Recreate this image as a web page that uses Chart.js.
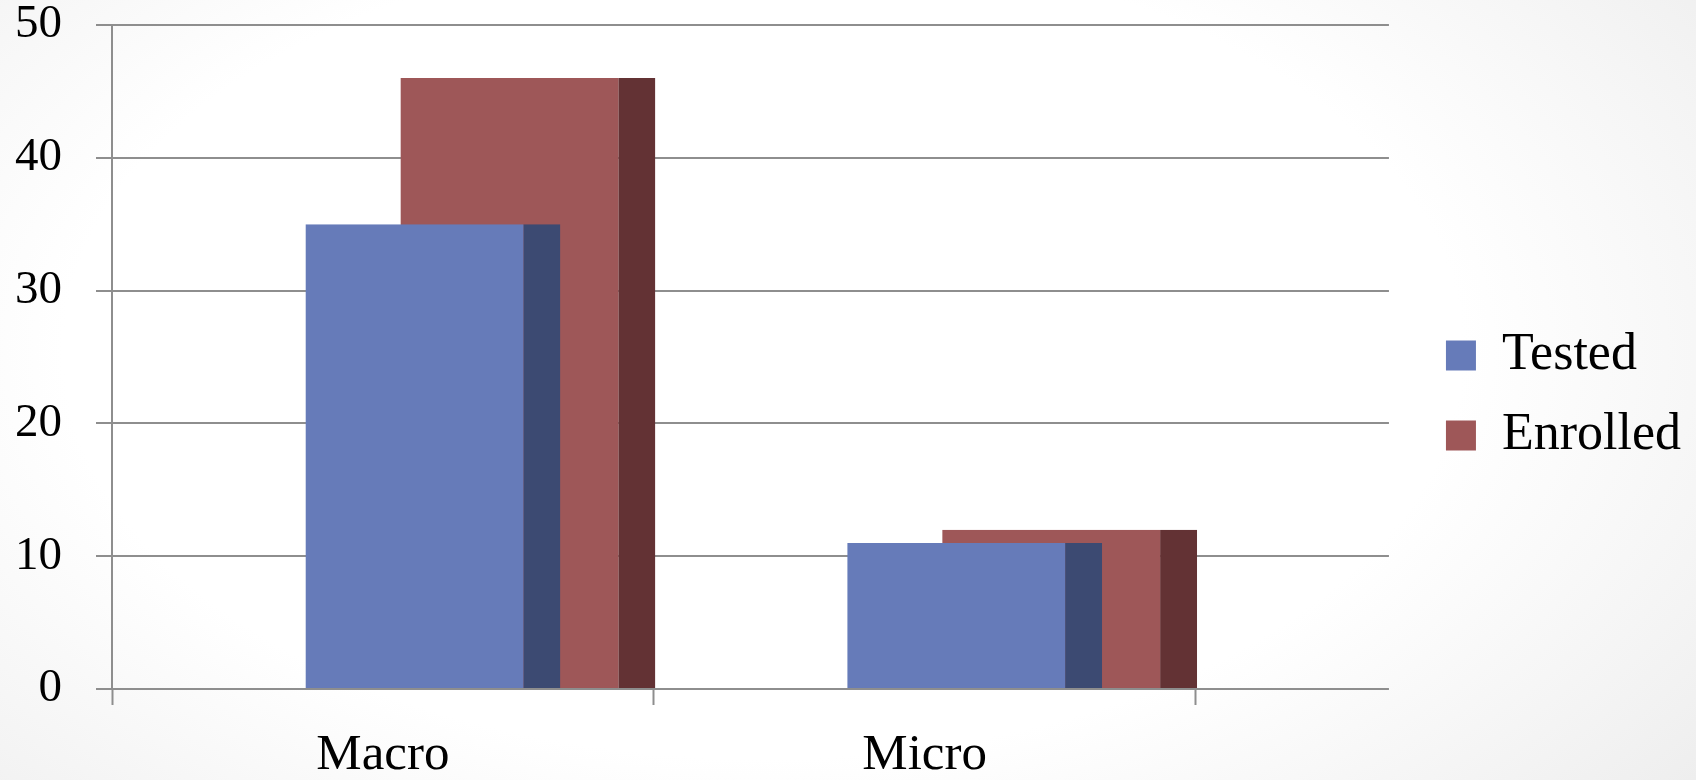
<!DOCTYPE html>
<html>
<head>
<meta charset="utf-8">
<script src="https://cdn.jsdelivr.net/npm/chart.js@4/dist/chart.umd.min.js"></script>
<style>
  html, body { margin: 0; padding: 0; overflow: hidden; }
  body {
    width: 1696px; height: 780px;
    background: radial-gradient(ellipse 75% 95% at 45% 45%, #ffffff 55%, #f4f4f4 80%, #ebebeb 100%);
  }
  #wrap { position: relative; width: 1696px; height: 780px; }
</style>
</head>
<body>
<div id="wrap"><canvas id="c"></canvas></div>
<script>
// ---- data ----
const categories = ['Macro', 'Micro'];
const seriesNames = ['Tested', 'Enrolled'];
const tested = [35, 11];
const enrolled = [46, 12];
const yTicks = [0, 10, 20, 30, 40, 50];

// ---- styles ----
const GRID = '#8e8e8e';
const FONT = '"Liberation Serif", "Times New Roman", serif';
const faceColors = ['#667bb9', '#9e5758'];
const sideColors = ['#3c4a72', '#633234'];

const toPoints = arr => arr.map((v, i) => ({ x: i, y: v }));
const depthShift = 0.18;   // 3D depth offset of the bars, in category units
const xMin = -0.5, xMax = 1.857;

const ctx = document.getElementById('c');
new Chart(ctx, {
  type: 'bar',
  data: {
    datasets: [tested, enrolled].map((vals, k) => ({
      label: seriesNames[k],
      data: toPoints(vals),
      xAxisID: 'xb',
      yAxisID: 'y',
      backgroundColor: faceColors[k],
      borderColor: sideColors[k],
      borderWidth: { top: 0, left: 0, bottom: 0, right: 37 },
      borderSkipped: false,
      categoryPercentage: 0.3506,
      barPercentage: 2.684
    }))
  },
  options: {
    responsive: true,
    maintainAspectRatio: false,
    animation: false,
    layout: { padding: { top: 11, left: 0, right: 5, bottom: 0 } },
    plugins: {
      tooltip: { enabled: false },
      legend: {
        position: 'right',
        align: 'center',
        labels: {
          color: '#000',
          font: { family: FONT, size: 52 },
          boxWidth: 30,
          boxHeight: 30,
          padding: 28,
          generateLabels: (chart) =>
            Chart.defaults.plugins.legend.labels.generateLabels(chart)
              .map(l => Object.assign(l, { lineWidth: 0, strokeStyle: 'rgba(0,0,0,0)' }))
        }
      }
    },
    scales: {
      x: {
        type: 'linear',
        position: 'bottom',
        min: xMin,
        max: xMax,
        offset: false,
        afterBuildTicks: (s) => {
          const t = [];
          categories.forEach((c, i) => { t.push({ value: i - 0.5 }); t.push({ value: i }); });
          t.push({ value: categories.length - 0.5 });
          s.ticks = t;
        },
        afterFit: (s) => { s.height = 91; s.paddingLeft = 0; s.paddingRight = 0; },
        grid: {
          offset: false,
          drawOnChartArea: false,
          drawTicks: true,
          tickLength: 16,
          tickWidth: 2,
          tickColor: (c) => (c.tick && Number.isInteger(c.tick.value)) ? 'rgba(0,0,0,0)' : GRID
        },
        border: { display: false },
        ticks: {
          autoSkip: false,
          maxRotation: 0,
          padding: 25,
          color: '#000',
          font: { family: FONT, size: 51, lineHeight: 1 },
          callback: (v) => Number.isInteger(v) ? categories[v] : ''
        }
      },
      xb: {
        type: 'linear',
        display: false,
        offset: false,
        min: xMin - depthShift,
        max: xMax - depthShift,
        afterBuildTicks: (s) => { s.ticks = categories.map((c, i) => ({ value: i })); },
        grid: { offset: false }
      },
      y: {
        type: 'linear',
        position: 'left',
        min: yTicks[0],
        max: yTicks[yTicks.length - 1],
        afterBuildTicks: (s) => { s.ticks = yTicks.map(v => ({ value: v })); },
        afterFit: (s) => { s.width = 112; s.paddingTop = 25; s.paddingBottom = 0; },
        grid: {
          color: GRID,
          lineWidth: 2,
          drawTicks: true,
          tickLength: 16,
          tickColor: GRID,
          tickWidth: 2
        },
        border: { display: true, color: GRID, width: 2 },
        ticks: {
          padding: 34,
          color: '#000',
          font: { family: FONT, size: 47, lineHeight: 1 }
        }
      },
      yr: {
        type: 'linear',
        position: 'right',
        display: true,
        afterFit: (s) => { s.width = 29; s.paddingTop = 0; s.paddingBottom = 0; },
        grid: { display: false, drawTicks: false },
        border: { display: false },
        ticks: { display: false }
      }
    }
  }
});
</script>
</body>
</html>
